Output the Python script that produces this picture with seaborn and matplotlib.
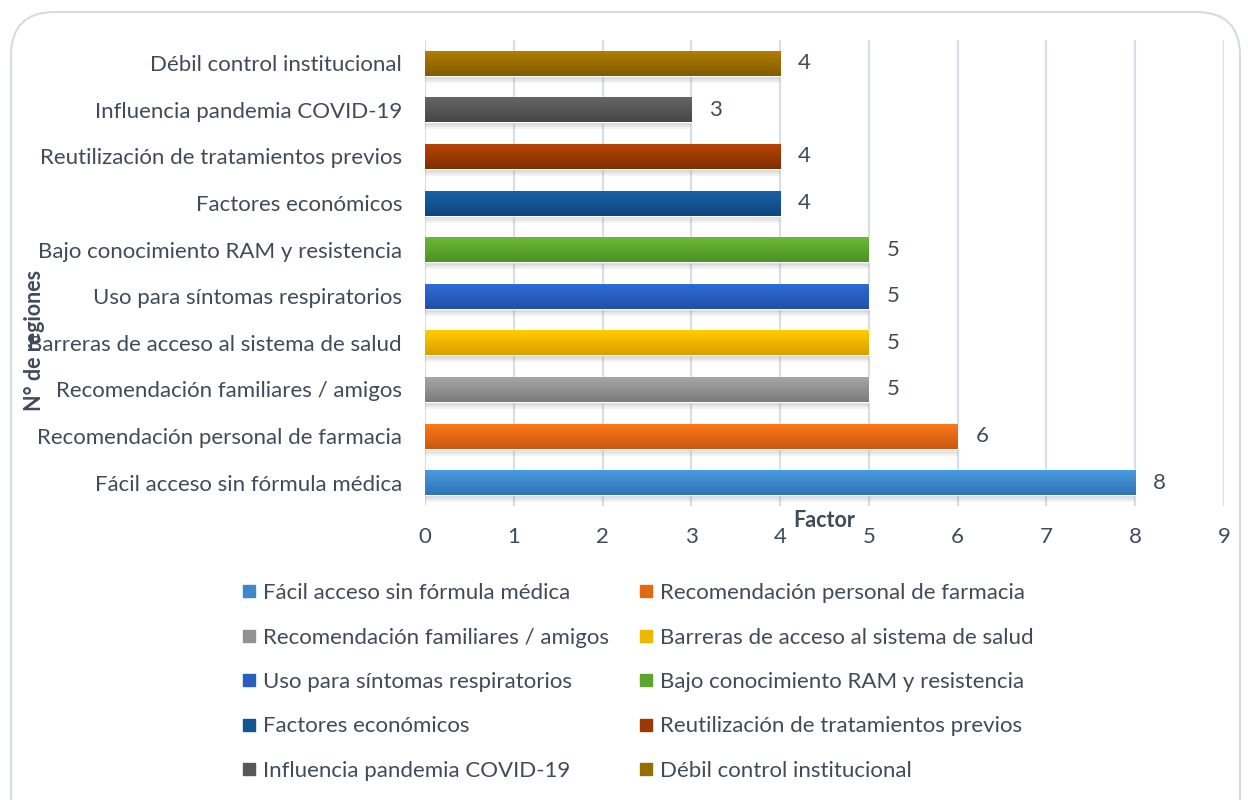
import numpy as np
import pandas as pd
import seaborn as sns
import matplotlib.pyplot as plt
import matplotlib.patheffects as pe
from matplotlib.patches import FancyBboxPatch
from matplotlib.lines import Line2D
from matplotlib.colors import to_rgb

# ---------------- data ----------------
categories = [
    "Débil control institucional",
    "Influencia pandemia COVID-19",
    "Reutilización de tratamientos previos",
    "Factores económicos",
    "Bajo conocimiento RAM y resistencia",
    "Uso para síntomas respiratorios",
    "Barreras de acceso al sistema de salud",
    "Recomendación familiares / amigos",
    "Recomendación personal de farmacia",
    "Fácil acceso sin fórmula médica",
]
values = [4, 3, 4, 4, 5, 5, 5, 5, 6, 8]
top_colors = ["#B28000", "#676767", "#B94500", "#1862A6", "#6CBB36",
              "#2E6DD8", "#FFCF00", "#A8A8A8", "#FF7A1A", "#4A9DE2"]
bottom_colors = ["#805B00", "#464646", "#7F2E00", "#0F467E", "#4E9028",
                 "#234FA6", "#DC9E00", "#7C7C7C", "#C95810", "#3073B4"]
x_ticks = [0, 1, 2, 3, 4, 5, 6, 7, 8, 9]
x_label = "Factor"
y_label = "N° de regiones"

TEXT = "#404B5A"
GRID = "#D9DDE4"
FS = 16

sns.set_theme(style="white")
plt.rcParams["font.family"] = ["Lato", "DejaVu Sans"]

df = pd.DataFrame({"factor": categories, "value": values})
mid_colors = {}
for c, t, b in zip(categories, top_colors, bottom_colors):
    mid_colors[c] = tuple((np.array(to_rgb(t)) + np.array(to_rgb(b))) / 2)

fig = plt.figure(figsize=(12.48, 8.0), dpi=100)
ax = fig.add_axes([425 / 1248, 1 - 506 / 800, 799 / 1248, 466 / 800])

bar_h = 0.54
sns.barplot(data=df, x="value", y="factor", hue="factor", palette=mid_colors,
            legend=False, width=bar_h, orient="h", ax=ax, dodge=False,
            saturation=1)

# gradient fills + soft shadows
for p in list(ax.patches):
    if p.get_width() <= 0:
        continue
    yc = p.get_y() + p.get_height() / 2
    idx = int(round(yc))
    t = np.array(to_rgb(top_colors[idx]))
    b = np.array(to_rgb(bottom_colors[idx]))
    grad = np.linspace(0, 1, 64)[:, None, None]
    img = t[None, None, :] * (1 - grad) + b[None, None, :] * grad
    x0, x1 = p.get_x(), p.get_x() + p.get_width()
    y0, y1 = p.get_y(), p.get_y() + p.get_height()
    p.set_path_effects([
        pe.SimplePatchShadow(offset=(0, -5), shadow_rgbFace="#909090", alpha=0.10),
        pe.SimplePatchShadow(offset=(0, -3.5), shadow_rgbFace="#909090", alpha=0.12),
        pe.SimplePatchShadow(offset=(0, -2), shadow_rgbFace="#909090", alpha=0.15),
        pe.Normal()])
    im = ax.imshow(img, extent=(x0, x1, y1, y0), origin="upper", aspect="auto",
                   zorder=p.get_zorder() + 0.1, interpolation="bilinear")
    im.set_clip_path(p)

ax.set_xlim(0, 9)
ax.set_ylim(len(categories) - 0.5, -0.5)
ax.set_xticks(x_ticks)
ax.set_xticklabels([str(v) for v in x_ticks])
ax.grid(axis="x", color=GRID, linewidth=1.6)
ax.grid(axis="y", visible=False)
ax.set_axisbelow(True)
for s in ax.spines.values():
    s.set_visible(False)
ax.tick_params(axis="both", length=0, labelsize=FS, colors=TEXT)
ax.tick_params(axis="y", pad=16.5)
ax.tick_params(axis="x", pad=15)

# data labels
for i, v in enumerate(values):
    ax.text(v + 0.2, i, str(v), va="center", ha="left", fontsize=FS, color=TEXT)

ax.set_xlabel(x_label, fontsize=15.5, fontweight="bold", color=TEXT)
ax.xaxis.set_label_coords(0.5, -0.008)
ax.set_ylabel(y_label, fontsize=15.5, fontweight="bold", color=TEXT)
ax.yaxis.set_label_coords(-0.476, 0.356)

# legend (row-wise order like the original)
leg_items = list(reversed(categories))
leg_colors = [mid_colors[c] for c in leg_items]
order = [0, 2, 4, 6, 8, 1, 3, 5, 7, 9]
handles = [Line2D([], [], marker="s", linestyle="", markersize=8.5,
                  markerfacecolor=leg_colors[k], markeredgecolor=leg_colors[k])
           for k in order]
labels = [leg_items[k] for k in order]
leg = fig.legend(handles, labels, ncol=2, loc="upper left",
                 bbox_to_anchor=(231 / 1248, 1 - 572 / 800), frameon=False,
                 fontsize=FS, labelcolor=TEXT, handlelength=0.6,
                 handletextpad=0.32, columnspacing=1.4, labelspacing=1.1,
                 borderpad=0)

# rounded chart border
border = FancyBboxPatch((11 / 1248, -0.05), (1240 - 11) / 1248, (1 - 12 / 800) + 0.05,
                        boxstyle="round,pad=0,rounding_size=0.035",
                        transform=fig.transFigure, fill=False,
                        edgecolor="#D5DBE3", linewidth=1.5, mutation_aspect=1248 / 800)
fig.patches.append(border)

fig.savefig("out.png", dpi=100, facecolor="white")
